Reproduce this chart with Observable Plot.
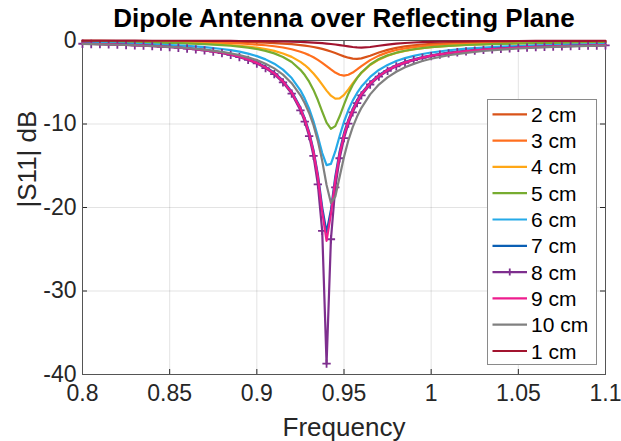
<!DOCTYPE html>
<html><head><meta charset="utf-8">
<script src="https://cdn.jsdelivr.net/npm/d3@7"></script>
<script src="https://cdn.jsdelivr.net/npm/@observablehq/plot@0.6"></script>
<style>html,body{margin:0;padding:0;background:#fff;}</style>
</head><body><div id="chart"></div>
<script>
const freq = [0.80,0.81,0.82,0.83,0.84,0.85,0.86,0.87,0.88,0.885,0.89,0.895,0.90,0.905,0.91,0.915,0.92,0.925,0.9275,0.93,0.9325,0.935,0.9375,0.94,0.9425,0.945,0.9475,0.95,0.9525,0.955,0.9575,0.96,0.965,0.97,0.975,0.98,0.985,0.99,0.995,1.00,1.01,1.02,1.03,1.04,1.05,1.06,1.07,1.08,1.09,1.10];
// 8 cm trace is sampled more densely (its markers show every sample)
const freq8 = [0.800,0.805,0.81,0.815,0.82,0.825,0.83,0.835,0.84,0.845,0.85,0.855,0.86,0.865,0.87,0.875,0.88,0.885,0.89,0.895,0.90,0.905,0.91,0.915,0.92,0.925,0.9275,0.93,0.9325,0.935,0.9375,0.94,0.9425,0.945,0.9475,0.95,0.9525,0.955,0.9575,0.96,0.965,0.97,0.975,0.98,0.985,0.99,0.995,1.00,1.005,1.01,1.015,1.02,1.025,1.03,1.035,1.04,1.045,1.05,1.055,1.06,1.065,1.07,1.075,1.08,1.085,1.09,1.095,1.10];

const s1cm = [-0.02,-0.02,-0.02,-0.02,-0.03,-0.03,-0.03,-0.04,-0.05, -0.05,-0.06,-0.07,-0.08,-0.09,-0.10,-0.12,-0.15,-0.18, -0.20,-0.22,-0.25,-0.28,-0.32,-0.37,-0.42,-0.48,-0.56,-0.63,-0.71,-0.78,-0.83, -0.85,-0.78,-0.63,-0.49,-0.38,-0.30,-0.24,-0.20,-0.17, -0.12,-0.10,-0.08,-0.07,-0.06,-0.05,-0.04,-0.04,-0.04,-0.03];
const s2cm = [-0.05,-0.05,-0.06,-0.06,-0.07,-0.08,-0.10,-0.12,-0.14, -0.16,-0.18,-0.20,-0.23,-0.26,-0.31,-0.37,-0.44,-0.55, -0.61,-0.69,-0.78,-0.89,-1.01,-1.15,-1.32,-1.50,-1.70,-1.90,-2.06,-2.17,-2.20, -2.14,-1.82,-1.44,-1.12,-0.88,-0.71,-0.58,-0.48,-0.41, -0.31,-0.25,-0.20,-0.17,-0.15,-0.13,-0.12,-0.11,-0.10,-0.09];
const s3cm = [-0.09,-0.09,-0.11,-0.12,-0.14,-0.16,-0.19,-0.23,-0.28, -0.32,-0.36,-0.42,-0.49,-0.57,-0.69,-0.84,-1.05,-1.34, -1.53,-1.75,-2.01,-2.32,-2.67,-3.06,-3.47,-3.84,-4.10,-4.20,-4.10,-3.84,-3.47, -3.06,-2.35,-1.81,-1.42,-1.14,-0.94,-0.79,-0.67,-0.58, -0.46,-0.37,-0.31,-0.27,-0.24,-0.21,-0.19,-0.17,-0.16,-0.15];
const s4cm = [-0.14,-0.15,-0.17,-0.19,-0.22,-0.26,-0.31,-0.38,-0.48, -0.54,-0.63,-0.73,-0.85,-1.02,-1.24,-1.55,-1.96,-2.56, -2.94,-3.40,-3.95,-4.58,-5.29,-6.00,-6.61,-6.96,-6.92,-6.51,-5.86,-5.14,-4.46, -3.87,-2.94,-2.29,-1.83,-1.50,-1.25,-1.07,-0.92,-0.81, -0.65,-0.53,-0.45,-0.39,-0.35,-0.31,-0.28,-0.26,-0.24,-0.22];
const s5cm = [-0.15,-0.17,-0.19,-0.21,-0.25,-0.29,-0.35,-0.43,-0.55, -0.63,-0.73,-0.86,-1.02,-1.24,-1.54,-1.97,-2.58,-3.51, -4.14,-4.93,-5.92,-7.13,-8.52,-9.84,-10.58,-10.25,-9.08,-7.67,-6.37,-5.33,-4.50, -3.83,-2.87,-2.22,-1.78,-1.46,-1.23,-1.05,-0.91,-0.80, -0.65,-0.54,-0.46,-0.40,-0.35,-0.32,-0.29,-0.26,-0.24,-0.23];
const s6cm = [-0.27,-0.31,-0.35,-0.40,-0.46,-0.54,-0.65,-0.80,-1.02, -1.16,-1.34,-1.57,-1.87,-2.26,-2.78,-3.49,-4.50,-5.97, -6.96,-8.17,-9.68,-11.50,-13.48,-14.93,-14.78,-13.29,-11.44,-9.73,-8.33,-7.20,-6.28, -5.52,-4.36,-3.53,-2.92,-2.46,-2.11,-1.84,-1.62,-1.44, -1.17,-0.98,-0.84,-0.74,-0.66,-0.59,-0.54,-0.49,-0.46,-0.42];
const s7cm = [-0.37,-0.42,-0.47,-0.54,-0.63,-0.75,-0.91,-1.12,-1.43, -1.64,-1.89,-2.21,-2.62,-3.15,-3.85,-4.80,-6.12,-8.03, -9.33,-10.96,-13.13,-16.04,-19.98,-23.0,-20.3,-16.3,-13.3,-11.1,-9.5,-8.2,-7.13, -6.31,-5.05,-4.14,-3.47,-2.96,-2.56,-2.24,-1.99,-1.78, -1.46,-1.23,-1.07,-0.94,-0.83,-0.75,-0.69,-0.63,-0.58,-0.54];
const s8cm = [-0.39,-0.42,-0.44,-0.47,-0.50,-0.54,-0.58,-0.62,-0.67,-0.73,-0.79,-0.87,-0.96,-1.06,-1.19,-1.33,-1.51, -1.73,-1.99,-2.33,-2.75,-3.30,-4.03,-5.01,-6.37,-8.36, -9.71,-11.45,-13.81,-17.23,-22.8,-38.7,-23.8,-17.6,-14.1,-11.7,-9.95,-8.6,-7.5, -6.57,-5.27,-4.33,-3.64,-3.10,-2.69,-2.36,-2.09,-1.88, -1.70,-1.54,-1.41,-1.30,-1.21,-1.13,-1.05,-0.99,-0.93,-0.88,-0.84,-0.80,-0.76,-0.73,-0.70,-0.67,-0.64,-0.62,-0.60,-0.58];
const s9cm = [-0.38,-0.43,-0.49,-0.56,-0.65,-0.77,-0.93,-1.15,-1.47, -1.68,-1.94,-2.27,-2.68,-3.22,-3.93,-4.89,-6.22,-8.15, -9.46,-11.12,-13.32,-16.31,-20.5,-24.0,-20.8,-16.7,-13.6,-11.35,-9.65,-8.35,-7.3, -6.41,-5.14,-4.23,-3.54,-3.02,-2.62,-2.30,-2.04,-1.82, -1.50,-1.27,-1.09,-0.96,-0.86,-0.77,-0.70,-0.65,-0.60,-0.56];
const s10cm = [-0.41,-0.46,-0.51,-0.57,-0.66,-0.76,-0.90,-1.09,-1.36, -1.54,-1.75,-2.02,-2.35,-2.78,-3.34,-4.09,-5.11,-6.56, -7.51,-8.68,-10.14,-12.02,-14.41,-17.30,-19.45,-18.71,-16.32,-13.94,-11.95,-10.38,-9.11, -8.06,-6.45,-5.28,-4.41,-3.74,-3.21,-2.80,-2.46,-2.19, -1.77,-1.48,-1.26,-1.09,-0.96,-0.86,-0.77,-0.70,-0.65,-0.60];

const seriesNames = ["2 cm","3 cm","4 cm","5 cm","6 cm","7 cm","8 cm","9 cm","10 cm","1 cm"];
const seriesValues = [s2cm,s3cm,s4cm,s5cm,s6cm,s7cm,s8cm,s9cm,s10cm,s1cm];
const seriesFreqs = [freq,freq,freq,freq,freq,freq,freq8,freq,freq,freq];
const seriesColors = ["#D95319","#FF6F1E","#FFA716","#77AC30","#25AAE8","#0A5FB4","#7E2F8E","#EE1D8E","#808080","#A2142F"];
const markerSeries = "8 cm";

const xTicks = [0.8,0.85,0.9,0.95,1,1.05,1.1];
const xTickLabels = ["0.8","0.85","0.9","0.95","1","1.05","1.1"];
const yTicks = [-40,-30,-20,-10,0];
const yTickLabels = ["-40","-30","-20","-10","0"];
const titleText = "Dipole Antenna over Reflecting Plane";
const xLabel = "Frequency";
const yLabel = "|S11| dB";

const rows = [];
seriesNames.forEach((name, i) => {
  seriesValues[i].forEach((v, j) => rows.push({f: seriesFreqs[i][j], v, s: name}));
});

const W = 621, H = 441, mL = 82, mR = 16, mT = 40, mB = 67;
const fw = W - mL - mR, fh = H - mT - mB;
const font = "'Liberation Sans', Arial, Helvetica, sans-serif";
const ink = "#262626";

const marks = [
  Plot.gridX(xTicks, {stroke: ink, strokeOpacity: 0.13}),
  Plot.gridY(yTicks, {stroke: ink, strokeOpacity: 0.13}),
  Plot.tickX(xTicks, {stroke: ink, insetTop: fh - 5}),
  Plot.tickX(xTicks, {stroke: ink, insetBottom: fh - 5}),
  Plot.tickY(yTicks, {stroke: ink, insetRight: fw - 5}),
  Plot.tickY(yTicks, {stroke: ink, insetLeft: fw - 5}),
  Plot.axisX(xTicks, {tickSize: 0, tickPadding: 10, fontSize: 23, fill: ink, label: null, tickFormat: (d, i) => xTickLabels[i]}),
  Plot.axisY(yTicks, {tickSize: 0, tickPadding: 6, fontSize: 23, fill: ink, label: null, tickFormat: (d, i) => yTickLabels[i]}),
  Plot.frame({stroke: "#555"})
];
seriesNames.forEach((name, i) => {
  const data = rows.filter(d => d.s === name);
  marks.push(Plot.line(data, {x: "f", y: "v", stroke: seriesColors[i], strokeWidth: 2.2}));
  if (name === markerSeries) {
    marks.push(Plot.dot(data, {x: "f", y: "v", symbol: "plus", r: 2.8, stroke: seriesColors[i], strokeWidth: 1.8}));
  }
});
marks.push(Plot.text([titleText], {frameAnchor: "top", lineAnchor: "middle", dy: -22, fontSize: 26, fontWeight: "bold", fill: "#000"}));
marks.push(Plot.text([xLabel], {frameAnchor: "bottom", lineAnchor: "middle", dy: 53, fontSize: 26, fill: ink}));
marks.push(Plot.text([yLabel], {frameAnchor: "left", lineAnchor: "middle", dx: -55, rotate: -90, fontSize: 26, fill: ink}));

const plot = Plot.plot({
  width: W, height: H,
  marginLeft: mL, marginRight: mR, marginTop: mT, marginBottom: mB,
  style: {fontFamily: font, background: "#fff", overflow: "visible"},
  x: {domain: [0.8, 1.1]},
  y: {domain: [-40, 0]},
  marks
});

// legend inside the axes (upper-right box)
const svg = d3.select(plot);
const lg = svg.append("g").attr("font-family", font).attr("font-size", 21).attr("text-anchor", "start");
const bx = 487.5, by = 99.5, bw = 109, bh = 265, step = 26.3, y0 = 114.3;
lg.append("rect").attr("x", bx).attr("y", by).attr("width", bw).attr("height", bh)
  .attr("fill", "#fff").attr("stroke", "#8a8a8a").attr("stroke-width", 1);
seriesNames.forEach((name, i) => {
  const y = y0 + i * step;
  lg.append("line").attr("x1", 492.5).attr("x2", 527).attr("y1", y).attr("y2", y)
    .attr("stroke", seriesColors[i]).attr("stroke-width", 2.2);
  if (name === markerSeries) {
    lg.append("path").attr("d", `M${509.75-3.5},${y}H${509.75+3.5}M509.75,${y-3.5}V${y+3.5}`)
      .attr("stroke", seriesColors[i]).attr("stroke-width", 1.8).attr("fill", "none");
  }
  lg.append("text").attr("x", 531).attr("y", y).attr("dy", "0.36em").attr("fill", "#000").attr("text-anchor", "start").text(name);
});

document.getElementById("chart").appendChild(plot);
</script>
</body></html>
